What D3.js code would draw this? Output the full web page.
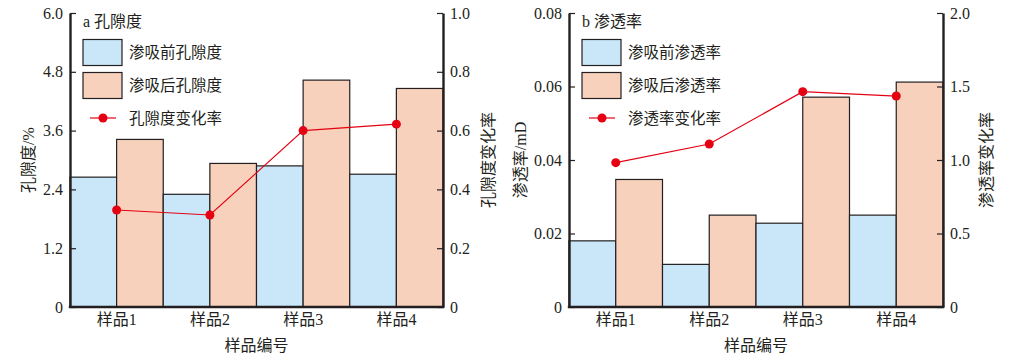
<!DOCTYPE html>
<html>
<head>
<meta charset="utf-8">
<script src="https://cdn.jsdelivr.net/npm/d3@7"></script>
<style>
  body { margin: 0; background: #fff; }
  text { fill: #231f20; }
</style>
</head>
<body>
<div id="chart"></div>
<script>
// data
var samples = ["样品1", "样品2", "样品3", "样品4"];

var porosityBefore = [2.65, 2.30, 2.88, 2.71];
var porosityAfter = [3.42, 2.93, 4.63, 4.46];
var porosityRate = [0.33, 0.313, 0.60, 0.622];
var porosityTicks = [0, 1.2, 2.4, 3.6, 4.8, 6.0];
var porosityRateTicks = [0, 0.2, 0.4, 0.6, 0.8, 1.0];

var permBefore = [0.018, 0.0116, 0.0228, 0.025];
var permAfter = [0.0347, 0.025, 0.0571, 0.0612];
var permRate = [0.982, 1.109, 1.465, 1.435];
var permTicks = [0, 0.02, 0.04, 0.06, 0.08];
var permRateTicks = [0, 0.5, 1.0, 1.5, 2.0];

var blue = "#c9e7f8";
var orange = "#f8d1bc";
var red = "#e50012";
var ink = "#231f20";
var fontFam = "'Liberation Serif', 'Noto Sans CJK SC', serif";

var svg = d3.select("#chart").append("svg")
    .attr("width", 1024)
    .attr("height", 362)
    .style("font-family", fontFam);

function fmt(d, p) {
  return d === 0 ? "0" : d3.format("." + p + "f")(d);
}

function drawPanel(opt) {
  var top = 13, bottom = 307;
  var x = d3.scaleBand().domain(samples).range([opt.x0, opt.x1]).padding(0);
  var xi = d3.scaleBand().domain(["before", "after"]).range([0, x.bandwidth()]).padding(0);
  var yL = d3.scaleLinear().domain([0, opt.yMax]).range([bottom, top]);
  var yR = d3.scaleLinear().domain([0, opt.rMax]).range([bottom, top]);

  var g = svg.append("g");

  // bars
  var groups = g.selectAll(".grp")
    .data(samples)
    .enter().append("g")
      .attr("transform", function(d) { return "translate(" + x(d) + ",0)"; });

  groups.append("rect")
    .attr("x", xi("before"))
    .attr("width", xi.bandwidth())
    .attr("y", function(d, i) { return yL(opt.before[i]); })
    .attr("height", function(d, i) { return bottom - yL(opt.before[i]); })
    .attr("fill", blue)
    .attr("stroke", ink)
    .attr("stroke-width", 1.2);

  groups.append("rect")
    .attr("x", xi("after"))
    .attr("width", xi.bandwidth())
    .attr("y", function(d, i) { return yL(opt.after[i]); })
    .attr("height", function(d, i) { return bottom - yL(opt.after[i]); })
    .attr("fill", orange)
    .attr("stroke", ink)
    .attr("stroke-width", 1.2);

  // rate line
  var cx = function(d, i) { return x(samples[i]) + x.bandwidth() / 2; };
  var line = d3.line()
    .x(cx)
    .y(function(d) { return yR(d); });

  g.append("path")
    .datum(opt.rate)
    .attr("d", line)
    .attr("fill", "none")
    .attr("stroke", red)
    .attr("stroke-width", 1.2);

  g.selectAll(".pt")
    .data(opt.rate)
    .enter().append("circle")
      .attr("cx", cx)
      .attr("cy", function(d) { return yR(d); })
      .attr("r", 4.5)
      .attr("fill", red);

  // axes
  var axL = g.append("g")
    .attr("transform", "translate(" + opt.x0 + ",0)")
    .call(d3.axisLeft(yL).tickValues(opt.yTicks).tickSize(-6).tickSizeOuter(0).tickPadding(7)
      .tickFormat(function(d) { return fmt(d, opt.yPrec); }));

  var axR = g.append("g")
    .attr("transform", "translate(" + opt.x1 + ",0)")
    .call(d3.axisRight(yR).tickValues(opt.rTicks).tickSize(-6).tickSizeOuter(0).tickPadding(7)
      .tickFormat(function(d) { return fmt(d, 1); }));

  var axB = g.append("g")
    .attr("transform", "translate(0," + bottom + ")")
    .call(d3.axisBottom(x).tickSize(0).tickPadding(7));

  [axL, axR, axB].forEach(function(a) {
    a.select(".domain").attr("stroke", ink).attr("stroke-width", 2.4);
    a.selectAll(".tick line").attr("stroke", ink).attr("stroke-width", 1.2);
    a.selectAll("text").attr("fill", ink).style("font-size", "16px").style("font-family", fontFam);
  });
  axB.select(".domain").attr("d", "M" + (opt.x0 - 1.2) + ",0H" + (opt.x1 + 1.2));

  // axis titles
  g.append("text")
    .attr("transform", "translate(" + opt.yTitleX + ",160) rotate(-90)")
    .attr("text-anchor", "middle")
    .attr("dominant-baseline", "central")
    .style("font-size", "16px")
    .text(opt.yTitle);

  g.append("text")
    .attr("transform", "translate(" + opt.rTitleX + ",160) rotate(-90)")
    .attr("text-anchor", "middle")
    .attr("dominant-baseline", "central")
    .style("font-size", "16px")
    .text(opt.rTitle);

  g.append("text")
    .attr("x", (opt.x0 + opt.x1) / 2)
    .attr("y", 345)
    .attr("text-anchor", "middle")
    .attr("dominant-baseline", "central")
    .style("font-size", "16px")
    .text("样品编号");

  // legend
  var lx = opt.x0 + 13;
  g.append("text")
    .attr("x", lx)
    .attr("y", 21)
    .attr("dominant-baseline", "central")
    .style("font-size", "16px")
    .text(opt.panelTitle);

  var legendItems = [
    { label: opt.legend[0], fill: blue, y: 39.5 },
    { label: opt.legend[1], fill: orange, y: 72.5 }
  ];
  legendItems.forEach(function(it) {
    g.append("rect")
      .attr("x", lx)
      .attr("y", it.y)
      .attr("width", 39)
      .attr("height", 26)
      .attr("fill", it.fill)
      .attr("stroke", ink)
      .attr("stroke-width", 1.2);
    g.append("text")
      .attr("x", lx + 46)
      .attr("y", it.y + 13)
      .attr("dominant-baseline", "central")
      .style("font-size", "15.5px")
      .text(it.label);
  });
  g.append("line")
    .attr("x1", lx + 7).attr("x2", lx + 33)
    .attr("y1", 118).attr("y2", 118)
    .attr("stroke", red).attr("stroke-width", 1.2);
  g.append("circle")
    .attr("cx", lx + 20).attr("cy", 118).attr("r", 4.5).attr("fill", red);
  g.append("text")
    .attr("x", lx + 46)
    .attr("y", 118)
    .attr("dominant-baseline", "central")
    .style("font-size", "15.5px")
    .text(opt.legend[2]);
}

drawPanel({
  x0: 70, x1: 443,
  yMax: 6.0, rMax: 1.0,
  yTicks: porosityTicks, rTicks: porosityRateTicks, yPrec: 1,
  before: porosityBefore, after: porosityAfter, rate: porosityRate,
  yTitle: "孔隙度/%", rTitle: "孔隙度变化率",
  yTitleX: 28, rTitleX: 488,
  panelTitle: "a 孔隙度",
  legend: ["渗吸前孔隙度", "渗吸后孔隙度", "孔隙度变化率"]
});

drawPanel({
  x0: 569, x1: 943,
  yMax: 0.08, rMax: 2.0,
  yTicks: permTicks, rTicks: permRateTicks, yPrec: 2,
  before: permBefore, after: permAfter, rate: permRate,
  yTitle: "渗透率/mD", rTitle: "渗透率变化率",
  yTitleX: 520, rTitleX: 986,
  panelTitle: "b 渗透率",
  legend: ["渗吸前渗透率", "渗吸后渗透率", "渗透率变化率"]
});
</script>
</body>
</html>
